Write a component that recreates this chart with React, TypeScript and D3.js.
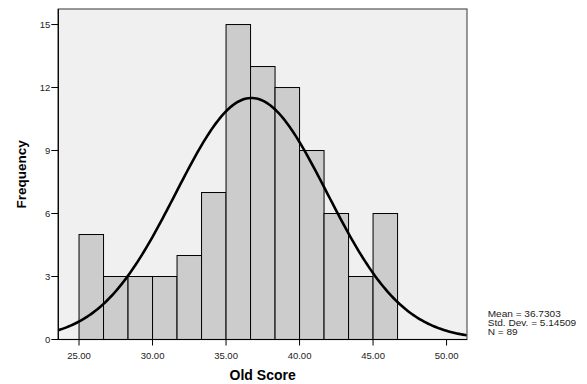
import React from "react";
import * as d3 from "d3";

// Histogram bins (lower edges) and counts
const BIN_START = 25;
const BIN_WIDTH = 5 / 3;
const COUNTS = [5, 3, 3, 3, 4, 7, 15, 13, 12, 9, 6, 3, 6];
const X_TICKS = [25, 30, 35, 40, 45, 50];
const Y_TICKS = [0, 3, 6, 9, 12, 15];
const MEAN = 36.7303;
const SD = 5.14509;
const N = 89;
const STATS = [`Mean = ${MEAN}`, `Std. Dev. = ${SD}`, `N = ${N}`];

const W = 587;
const H = 384;
const margin = { top: 9, right: 120, bottom: 44.5, left: 58.3 };
const FONT = "'Liberation Sans', Arial, sans-serif";

export default function App() {
    const x = d3.scaleLinear().domain([23.59, 51.39]).range([margin.left, 467]);
    const y = d3.scaleLinear().domain([0, 15.74]).range([H - margin.bottom, margin.top]);

    const bins = COUNTS.map((c, i) => ({ x0: BIN_START + i * BIN_WIDTH, x1: BIN_START + (i + 1) * BIN_WIDTH, c }));

    // normal curve scaled to the histogram (N * bin width)
    const scale = N * BIN_WIDTH;
    const [d0, d1] = x.domain();
    const curvePts = d3.range(0, 201).map(i => {
        const v = d0 + (d1 - d0) * i / 200;
        const z = (v - MEAN) / SD;
        return [v, scale * Math.exp(-0.5 * z * z) / (SD * Math.sqrt(2 * Math.PI))] as [number, number];
    });
    const line = d3.line<[number, number]>().x(d => x(d[0])).y(d => y(d[1]));

    const [px0, px1] = x.range();
    const [py0, py1] = y.range();

    return (
        <div style={{ position: "absolute", left: 0, top: 0 }}>
            <svg width={W} height={H} style={{ display: "block" }} fontFamily={FONT}>
                <defs>
                    <clipPath id="plot">
                        <rect x={px0} y={py1} width={px1 - px0} height={py0 - py1} />
                    </clipPath>
                </defs>
                <rect x={0} y={0} width={W} height={H} fill="#ffffff" />
                <rect x={px0} y={py1} width={px1 - px0} height={py0 - py1} fill="#f0f0f0" />
                {bins.map((b, i) => (
                    <rect key={i} x={x(b.x0)} y={y(b.c)} width={x(b.x1) - x(b.x0)} height={y(0) - y(b.c)}
                        fill="#cccccc" stroke="#000" strokeWidth={1} />
                ))}
                <path d={line(curvePts) || ""} fill="none" stroke="#000" strokeWidth={2.6} clipPath="url(#plot)" />
                <rect x={px0} y={py1} width={px1 - px0} height={py0 - py1} fill="none" stroke="#555" strokeWidth={1.2} />
                <line x1={px0} x2={px1} y1={py0} y2={py0} stroke="#000" strokeWidth={1.2} />
                <line x1={px0} x2={px0} y1={py0} y2={py1} stroke="#000" strokeWidth={1.2} />

                {Y_TICKS.map(t => (
                    <g key={t}>
                        <line x1={px0 - 7} x2={px0} y1={y(t)} y2={y(t)} stroke="#000" />
                        <text x={px0 - 8} y={y(t)} dy="0.34em" textAnchor="end" fontSize={9.5} fill="#222">{t}</text>
                    </g>
                ))}
                {X_TICKS.map(t => (
                    <g key={t}>
                        <line x1={x(t)} x2={x(t)} y1={py0} y2={py0 + 6} stroke="#000" />
                        <text x={x(t)} y={py0 + 19} textAnchor="middle" fontSize={9.5} fill="#222">{t.toFixed(2)}</text>
                    </g>
                ))}

                <text x={(px0 + px1) / 2} y={380} textAnchor="middle" fontSize={14} fontWeight="bold" fill="#000">Old Score</text>
                <text transform={`translate(25.5,${(py0 + py1) / 2}) rotate(-90)`} textAnchor="middle" fontSize={13.5} fontWeight="bold" fill="#000">Frequency</text>

                <g transform="translate(487.7,0) scale(1.2,1)">
                    {STATS.map((s, i) => (
                        <text key={s} x={0} y={317.5 + i * 8.8} fontSize={8.4} fill="#222">{s}</text>
                    ))}
                </g>
            </svg>
        </div>
    );
}
